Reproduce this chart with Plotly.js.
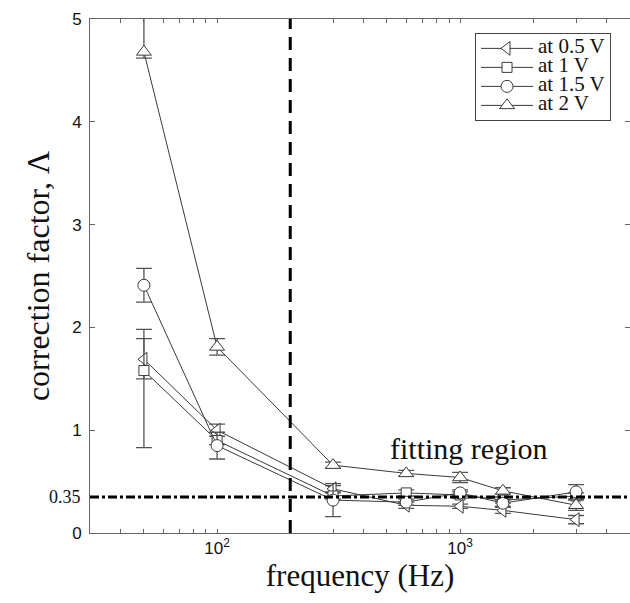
<!DOCTYPE html>
<html><head><meta charset="utf-8">
<script src="https://cdn.plot.ly/plotly-3.0.1.min.js"></script>
<style>html,body{margin:0;padding:0;background:#fff}</style>
</head><body><div id="chart" style="width:630px;height:603px"></div>
<script>
// Data
const freq = [50, 100, 300, 600, 1000, 1500, 3000];
const names = ["at 0.5 V", "at 1 V", "at 1.5 V", "at 2 V"];
const v05 = [1.69, 1.00, 0.43, 0.27, 0.26, 0.22, 0.13];
const v05Up = [0.20, 0.06, 0.03, 0.03, 0.02, 0.03, 0.04];
const v05Dn = [0.19, 0.06, 0.03, 0.03, 0.02, 0.03, 0.04];
const v1 = [1.58, 0.90, 0.36, 0.39, 0.37, 0.32, 0.36];
const v1Up = [0.40, 0.04, 0.03, 0.03, 0.03, 0.03, 0.03];
const v1Dn = [0.75, 0.04, 0.03, 0.03, 0.03, 0.03, 0.03];
const v15 = [2.41, 0.85, 0.32, 0.30, 0.39, 0.29, 0.40];
const v15Up = [0.165, 0.13, 0.16, 0.03, 0.03, 0.03, 0.07];
const v15Dn = [0.165, 0.13, 0.16, 0.03, 0.03, 0.03, 0.07];
const v2 = [4.68, 1.81, 0.66, 0.58, 0.54, 0.41, 0.27];
const v2Up = [0.50, 0.08, 0.03, 0.03, 0.05, 0.03, 0.05];
const v2Dn = [0.06, 0.08, 0.03, 0.03, 0.05, 0.03, 0.05];
const symbols = ["triangle-left", "square", "circle", "triangle-up"];
const xTickVals = [30,40,50,60,70,80,90,100,200,300,400,500,600,700,800,900,1000,2000,3000,4000,5000];
const xTickText = xTickVals.map(v => v === 100 ? "10<sup>2</sup>" : (v === 1000 ? "10<sup>3</sup>" : ""));
const yTickVals = [0, 1, 2, 3, 4, 5];
const fitLevel = 0.35;
const cutoffFreq = 200;
const xRange = [30, 5000];
const yRange = [0, 5];

const series = [v05, v1, v15, v2];
const ups = [v05Up, v1Up, v15Up, v2Up];
const dns = [v05Dn, v1Dn, v15Dn, v2Dn];
const sizes = [12, 10, 12, 13];

const serif = "Liberation Serif, Times New Roman, serif";
const sans = "Liberation Sans, Arial, sans-serif";
const dark = "#3a3a3a";

const traces = series.map((ys, i) => ({
  x: freq, y: ys, name: '<span style="font-size:21px">' + names[i] + '</span>',
  type: "scatter", mode: "lines+markers",
  line: {color: dark, width: 1},
  marker: {symbol: symbols[i], size: sizes[i], color: "#ffffff", line: {color: dark, width: 1}},
  error_y: {type: "data", symmetric: false, array: ups[i], arrayminus: dns[i], color: "#555", thickness: 1.3, width: 8},
  cliponaxis: true
}));

const layout = {
  width: 630, height: 603,
  margin: {l: 90, r: 0, t: 19, b: 70},
  paper_bgcolor: "#fff", plot_bgcolor: "#fff",
  showlegend: true,
  legend: {x: 0.713, y: 0.973, xanchor: "left", yanchor: "top",
    bgcolor: "#fff", bordercolor: "#444", borderwidth: 1,
    font: {family: serif, size: 12, color: "#111"}, tracegroupgap: 0, itemwidth: 52},
  xaxis: {type: "log", range: [Math.log10(xRange[0]), Math.log10(xRange[1])],
    tickmode: "array", tickvals: xTickVals, ticktext: xTickText,
    ticks: "inside", ticklen: 4, tickcolor: "#666", showline: true, linecolor: "#666", linewidth: 1,
    mirror: "ticks", showgrid: false, zeroline: false,
    tickfont: {family: sans, size: 17, color: "#111"},
    title: {text: "frequency (Hz)", font: {family: serif, size: 31, color: "#111"}, standoff: 4}},
  yaxis: {range: yRange, tickmode: "array", tickvals: yTickVals,
    ticks: "inside", ticklen: 5, tickcolor: "#666", showline: true, linecolor: "#666", linewidth: 1,
    mirror: "ticks", showgrid: false, zeroline: false,
    tickfont: {family: sans, size: 17, color: "#111"}, ticklabelstandoff: 4,
    title: {text: "correction factor, Λ", font: {family: serif, size: 32, color: "#111"}, standoff: 12}},
  shapes: [
    {type: "line", xref: "x", yref: "paper", x0: cutoffFreq, x1: cutoffFreq, y0: 0, y1: 1,
      line: {color: "#000", width: 3, dash: "13px,8px"}},
    {type: "line", xref: "paper", yref: "y", x0: 0, x1: 1, y0: fitLevel, y1: fitLevel,
      line: {color: "#000", width: 3, dash: "dashdot"}}
  ],
  annotations: [
    {x: Math.log10(1080), y: 0.82, xref: "x", yref: "y", text: "fitting region", showarrow: false,
      font: {family: serif, size: 30, color: "#111"}},
    {x: 0, y: fitLevel, xref: "paper", yref: "y", xanchor: "right", xshift: -7, text: String(fitLevel),
      showarrow: false, font: {family: serif, size: 18, color: "#111"}}
  ]
};

Plotly.newPlot("chart", traces, layout, {displayModeBar: false, staticPlot: true});
</script></body></html>
